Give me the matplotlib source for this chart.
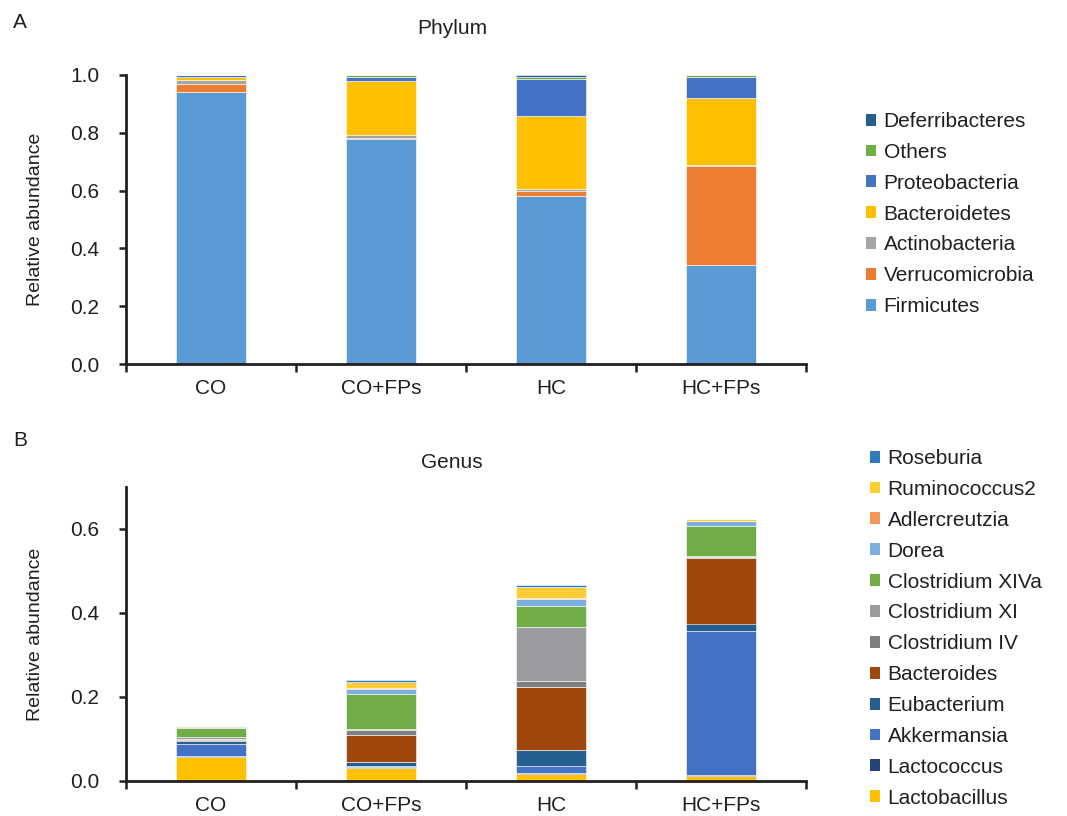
import matplotlib
matplotlib.use("Agg")
import matplotlib.pyplot as plt
from matplotlib.patches import Patch
import numpy as np

plt.rcParams['font.family'] = ['Liberation Sans', 'DejaVu Sans']

groups = ["CO", "CO+FPs", "HC", "HC+FPs"]

phyla = ["Firmicutes", "Verrucomicrobia", "Actinobacteria", "Bacteroidetes",
         "Proteobacteria", "Others", "Deferribacteres"]
firmicutes = [0.940, 0.780, 0.580, 0.342]
verrucomicrobia = [0.030, 0.002, 0.018, 0.342]
actinobacteria = [0.013, 0.012, 0.006, 0.003]
bacteroidetes = [0.010, 0.186, 0.254, 0.232]
proteobacteria = [0.006, 0.012, 0.129, 0.075]
others = [0.001, 0.007, 0.007, 0.005]
deferribacteres = [0.000, 0.001, 0.006, 0.001]
phylum_values = [firmicutes, verrucomicrobia, actinobacteria, bacteroidetes,
                 proteobacteria, others, deferribacteres]
phylum_colors = ["#5B9BD5", "#ED7D31", "#A5A5A5", "#FFC000",
                 "#4472C4", "#70AD47", "#255E91"]

genera = ["Lactobacillus", "Lactococcus", "Akkermansia", "Eubacterium",
          "Bacteroides", "Clostridium IV", "Clostridium XI", "Clostridium XIVa",
          "Dorea", "Adlercreutzia", "Ruminococcus2", "Roseburia"]
lactobacillus = [0.058, 0.032, 0.017, 0.013]
lactococcus = [0.002, 0.001, 0.001, 0.001]
akkermansia = [0.027, 0.002, 0.018, 0.343]
eubacterium = [0.008, 0.011, 0.038, 0.018]
bacteroides = [0.003, 0.064, 0.151, 0.155]
clostridium_iv = [0.003, 0.012, 0.014, 0.003]
clostridium_xi = [0.003, 0.002, 0.128, 0.002]
clostridium_xiva = [0.023, 0.084, 0.050, 0.073]
dorea = [0.001, 0.012, 0.017, 0.011]
adlercreutzia = [0.002, 0.001, 0.002, 0.001]
ruminococcus2 = [0.001, 0.015, 0.027, 0.003]
roseburia = [0.0005, 0.004, 0.004, 0.0005]
genus_values = [lactobacillus, lactococcus, akkermansia, eubacterium, bacteroides,
                clostridium_iv, clostridium_xi, clostridium_xiva, dorea,
                adlercreutzia, ruminococcus2, roseburia]
genus_colors = ["#FFC000", "#264478", "#4472C4", "#255E91", "#9E480E",
                "#7F7F7F", "#9A9B9F", "#70AD47", "#7CAFDD", "#F1975A",
                "#FFCD33", "#2E7BC0"]

fig = plt.figure(figsize=(10.67, 8.16), dpi=100)
W, H = 1067, 816
axA = fig.add_axes([126 / W, 1 - 364 / H, 680 / W, 289 / H])
axB = fig.add_axes([126 / W, 1 - 781 / H, 680 / W, 294 / H])

tc = "#231F20"
fs = 15


def draw(ax, names, values, colors, ylim, yticks, ylabels):
    x = np.arange(len(groups))
    bottom = np.zeros(len(groups))
    for name, vals, col in zip(names, values, colors):
        v = np.array(vals)
        ax.bar(x, v, width=0.41, bottom=bottom, color=col, edgecolor="white",
               linewidth=0.4, label=name)
        bottom += v
    ax.set_xlim(-0.5, len(groups) - 0.5)
    ax.set_ylim(*ylim)
    ax.set_yticks(yticks)
    ax.set_yticklabels(ylabels, fontsize=fs, color=tc)
    ax.set_xticks(np.arange(-0.5, len(groups)))
    ax.set_xticklabels([])
    ax.set_xticks(x, minor=True)
    ax.set_xticklabels(groups, minor=True, fontsize=fs, color=tc)
    ax.tick_params(axis="x", which="minor", length=0, pad=11)
    ax.tick_params(axis="x", which="major", length=6, width=1.8, color=tc, direction="out")
    ax.tick_params(axis="y", length=5, width=1.8, color=tc, direction="out", pad=14)
    for s in ["top", "right"]:
        ax.spines[s].set_visible(False)
    for s in ["left", "bottom"]:
        ax.spines[s].set_linewidth(2.0)
        ax.spines[s].set_color(tc)
    ax.set_ylabel("Relative abundance", fontsize=14, color=tc)
    ax.yaxis.set_label_coords(-82 / 680, 0.5)
    handles = [Patch(facecolor=c, edgecolor="none", label=n) for n, c in zip(names, colors)]
    return handles[::-1]


hA = draw(axA, phyla, phylum_values, phylum_colors, (0, 1.0),
          [0, 0.2, 0.4, 0.6, 0.8, 1.0], ["0.0", "0.2", "0.4", "0.6", "0.8", "1.0"])
hB = draw(axB, genera, genus_values, genus_colors, (0, 0.7),
          [0, 0.2, 0.4, 0.6], ["0.0", "0.2", "0.4", "0.6"])

legkw = dict(frameon=False, fontsize=fs, handlelength=0.5, handleheight=0.5,
             handletextpad=0.35, labelspacing=0.57, borderaxespad=0, borderpad=0,
             labelcolor=tc)
fig.legend(handles=hA, loc="upper left", bbox_to_anchor=(866 / W, 1 - 112 / H), **legkw)
fig.legend(handles=hB, loc="upper left", bbox_to_anchor=(870 / W, 1 - 449 / H), **legkw)

fig.text(452 / W, 1 - 28 / H, "Phylum", ha="center", va="center", fontsize=fs, color=tc)
fig.text(452 / W, 1 - 462 / H, "Genus", ha="center", va="center", fontsize=fs, color=tc)
fig.text(20 / W, 1 - 22 / H, "A", ha="center", va="center", fontsize=fs, color=tc)
fig.text(20 / W, 1 - 440 / H, "B", ha="center", va="center", fontsize=fs, color=tc)

fig.savefig("out.png", dpi=100)
